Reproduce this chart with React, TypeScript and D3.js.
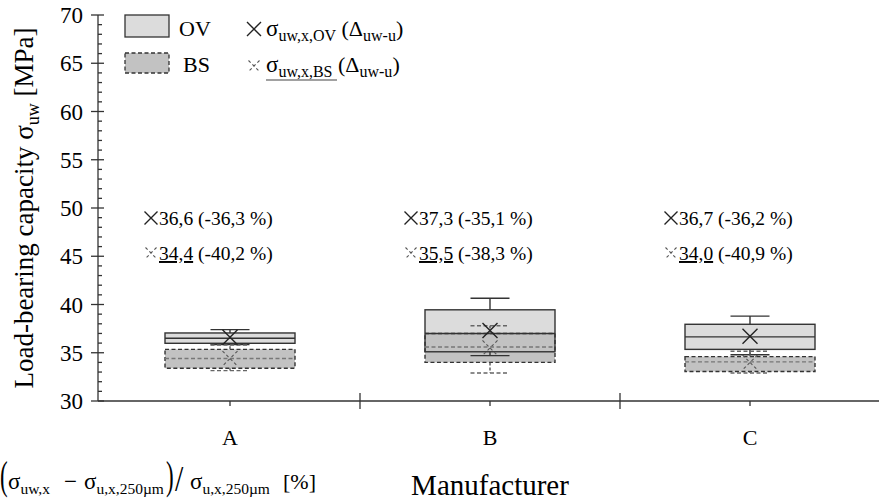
import React from "react";
import * as d3 from "d3";

const WIDTH = 879;
const HEIGHT = 502;

const categories = ["A", "B", "C"];

// box stats [MPa]
const ovWhiskerLow = [35.85, 34.7, 34.8];
const ovQ1 = [35.98, 35.1, 35.35];
const ovMedian = [36.5, 37.0, 36.65];
const ovQ3 = [37.05, 39.45, 37.95];
const ovWhiskerHigh = [37.4, 40.65, 38.8];
const ovMean = [36.6, 37.3, 36.7];
const ovDelta = [-36.3, -35.1, -36.2];

const bsWhiskerLow = [33.15, 32.9, 32.9];
const bsQ1 = [33.4, 34.0, 33.05];
const bsMedian = [34.4, 35.6, 34.05];
const bsQ3 = [35.35, 37.0, 34.6];
const bsWhiskerHigh = [35.8, 37.8, 35.15];
const bsMean = [34.4, 35.5, 34.0];
const bsDelta = [-40.2, -38.3, -40.9];

const FONT = '"Liberation Serif", "DejaVu Serif", serif';
const AXIS = "#333";
const OV_FILL = "#dcdcdc";
const BS_FILL = "#c2c2c2";
const TXT = { fontFamily: FONT };
const INK = "#000";

const fmt = (v: number) => d3.format(".1f")(v).replace(".", ",").replace("−", "-");

const Cross = ({ cx, cy, r, dashed }: { cx: number; cy: number; r: number; dashed?: boolean }) => (
  <path
    d={`M${cx - r},${cy - r}L${cx + r},${cy + r}M${cx + r},${cy - r}L${cx - r},${cy + r}`}
    stroke={dashed ? "#555" : "#222"}
    strokeWidth={dashed ? 1.1 : 1.4}
    strokeDasharray={dashed ? "3 2.5" : undefined}
    fill="none"
  />
);

// sigma with a subscript, as one text
const Sigma = ({ x, y, sub }: { x: number; y: number; sub: string }) => (
  <text x={x} y={y} fontSize={23} fill={INK} style={TXT}>
    σ<tspan fontSize={15.5} dy={5}>{sub}</tspan>
  </text>
);

export default function App() {
  const x = d3.scaleBand<string>().domain(categories).range([100, 880]).padding(0);
  const y = d3.scaleLinear().domain([30, 70]).range([401, 15]);
  const axisX = 98;
  const hw = 65;
  const cw = 19.5;

  const majorTicks = y.ticks(8);
  const minorTicks = d3.range(30, 71, 1).filter((v) => v % 5 !== 0);
  const boundaries = categories.slice(1).map((c) => x(c)!);

  const cxOf = (i: number) => x(categories[i])! + x.bandwidth() / 2;

  return (
    <svg
      width={WIDTH}
      height={HEIGHT}
      style={{ position: "absolute", left: 0, top: 0, background: "#fff", fontFamily: FONT }}
    >
      {/* fills */}
      {categories.map((c, i) => (
        <g key={`fill-${c}`}>
          <rect x={cxOf(i) - hw} y={y(ovQ3[i])} width={hw * 2} height={y(ovQ1[i]) - y(ovQ3[i])} fill={OV_FILL} />
          <rect x={cxOf(i) - hw} y={y(bsQ3[i])} width={hw * 2} height={y(bsQ1[i]) - y(bsQ3[i])} fill={BS_FILL} />
        </g>
      ))}

      {/* OV strokes */}
      {categories.map((c, i) => {
        const cx = cxOf(i);
        return (
          <g key={`ov-${c}`} stroke={AXIS} strokeWidth={1.4} fill="none">
            <rect x={cx - hw} y={y(ovQ3[i])} width={hw * 2} height={y(ovQ1[i]) - y(ovQ3[i])} />
            <line x1={cx - hw} x2={cx + hw} y1={y(ovMedian[i])} y2={y(ovMedian[i])} />
            <line x1={cx} x2={cx} y1={y(ovQ3[i])} y2={y(ovWhiskerHigh[i])} />
            <line x1={cx - cw} x2={cx + cw} y1={y(ovWhiskerHigh[i])} y2={y(ovWhiskerHigh[i])} />
            <line x1={cx} x2={cx} y1={y(ovQ1[i])} y2={y(ovWhiskerLow[i])} />
            <line x1={cx - cw} x2={cx + cw} y1={y(ovWhiskerLow[i])} y2={y(ovWhiskerLow[i])} />
          </g>
        );
      })}

      {/* BS strokes */}
      {categories.map((c, i) => {
        const cx = cxOf(i);
        return (
          <g key={`bs-${c}`} fill="none" strokeWidth={1.4}>
            <rect
              x={cx - hw}
              y={y(bsQ3[i])}
              width={hw * 2}
              height={y(bsQ1[i]) - y(bsQ3[i])}
              stroke={AXIS}
              strokeDasharray="4 2.5"
            />
            <line x1={cx - hw} x2={cx + hw} y1={y(bsMedian[i])} y2={y(bsMedian[i])} stroke="#777" strokeDasharray="4 2.5" />
            <line x1={cx} x2={cx} y1={y(bsQ3[i])} y2={y(bsWhiskerHigh[i])} stroke="#555" strokeDasharray="3 2" />
            <line x1={cx - cw} x2={cx + cw} y1={y(bsWhiskerHigh[i])} y2={y(bsWhiskerHigh[i])} stroke="#666" strokeDasharray="4 2.5" />
            <line x1={cx} x2={cx} y1={y(bsQ1[i])} y2={y(bsWhiskerLow[i])} stroke="#555" strokeDasharray="3 2" />
            <line x1={cx - cw} x2={cx + cw} y1={y(bsWhiskerLow[i])} y2={y(bsWhiskerLow[i])} stroke="#666" strokeDasharray="4 2.5" />
          </g>
        );
      })}

      {/* means */}
      {categories.map((c, i) => (
        <g key={`mean-${c}`}>
          <Cross cx={cxOf(i)} cy={y(bsMean[i])} r={7.5} dashed />
          <Cross cx={cxOf(i)} cy={y(ovMean[i])} r={7.5} />
        </g>
      ))}

      {/* annotations */}
      {categories.map((c, i) => {
        const cx = cxOf(i);
        return (
          <g key={`ann-${c}`} fontSize={19.5} fill={INK}>
            <Cross cx={cx - 79} cy={218} r={6.5} />
            <text x={cx - 71} y={225} style={TXT}>
              {`${fmt(ovMean[i])} (${fmt(ovDelta[i])} %)`}
            </text>
            <Cross cx={cx - 79} cy={253} r={5.5} dashed />
            <text x={cx - 71} y={260} style={TXT}>
              <tspan textDecoration="underline">{fmt(bsMean[i])}</tspan>
              <tspan>{` (${fmt(bsDelta[i])} %)`}</tspan>
            </text>
          </g>
        );
      })}

      {/* y axis */}
      <g stroke={AXIS} strokeWidth={1.3}>
        <line x1={axisX} x2={axisX} y1={y(70)} y2={y(30)} />
        {majorTicks.map((t) => (
          <line key={`M${t}`} x1={axisX - 7} x2={axisX + 6} y1={y(t)} y2={y(t)} />
        ))}
        {minorTicks.map((t) => (
          <line key={`m${t}`} x1={axisX} x2={axisX + 4} y1={y(t)} y2={y(t)} />
        ))}
      </g>
      <g fontSize={23} textAnchor="end" fill={INK}>
        {majorTicks.map((t) => (
          <text key={`l${t}`} x={83} y={y(t) + 8} style={TXT}>
            {t}
          </text>
        ))}
      </g>
      <text transform={`translate(33,208) rotate(-90)`} textAnchor="middle" fontSize={27} fill={INK} style={TXT}>
        Load-bearing capacity σ<tspan fontSize={18} dy={6}>uw</tspan>
        <tspan dy={-6}> [MPa]</tspan>
      </text>

      {/* x axis */}
      <g stroke={AXIS} strokeWidth={1.3}>
        <line x1={axisX} x2={WIDTH} y1={y(30)} y2={y(30)} />
        {boundaries.map((b) => (
          <line key={`b${b}`} x1={b} x2={b} y1={y(30) - 8} y2={y(30) + 8} />
        ))}
        {categories.map((c, i) => (
          <line key={`t${c}`} x1={cxOf(i)} x2={cxOf(i)} y1={y(30)} y2={y(30) + 5} />
        ))}
      </g>
      <g fontSize={22} textAnchor="middle" fill={INK}>
        {categories.map((c, i) => (
          <text key={`x${c}`} x={cxOf(i)} y={445} style={TXT}>
            {c}
          </text>
        ))}
      </g>
      <text x={490} y={495} textAnchor="middle" fontSize={29} fill={INK} style={TXT}>
        Manufacturer
      </text>

      {/* formula: (σuw,x − σu,x,250µm) / σu,x,250µm [%] */}
      <text transform="translate(0,489) scale(1,1.7)" fontSize={23} fill={INK} style={TXT}>(</text>
      <Sigma x={8} y={489} sub="uw,x" />
      <text x={64} y={489} fontSize={23} fill={INK} style={TXT}>−</text>
      <Sigma x={84} y={489} sub="u,x,250µm" />
      <text transform="translate(166,489) scale(1,1.7)" fontSize={23} fill={INK} style={TXT}>)</text>
      <text transform="translate(175,491) scale(1.3,1.6)" fontSize={23} fill={INK} style={TXT}>/</text>
      <Sigma x={190} y={489} sub="u,x,250µm" />
      <text x={283} y={489} fontSize={22} fill={INK} style={TXT}>[%]</text>

      {/* legend */}
      <rect x={125} y={15} width={44} height={22} fill={OV_FILL} stroke={AXIS} strokeWidth={1.3} />
      <rect x={125} y={53} width={44} height={20} fill={BS_FILL} stroke={AXIS} strokeWidth={1.3} strokeDasharray="4 2.5" />
      <text x={179} y={36} fontSize={22} fill={INK} style={TXT}>OV</text>
      <text x={183} y={72} fontSize={22} fill={INK} style={TXT}>BS</text>
      <Cross cx={254} cy={29} r={7} />
      <Cross cx={254} cy={66} r={5.5} dashed />
      <text x={266} y={36} fontSize={23} fill={INK} style={TXT}>
        σ<tspan fontSize={16} dy={5}>uw,x,OV</tspan>
        <tspan dy={-5} fontSize={22}> (Δ</tspan>
        <tspan fontSize={16} dy={5}>uw-u</tspan>
        <tspan dy={-5} fontSize={22}>)</tspan>
      </text>
      <text x={266} y={72} fontSize={23} fill={INK} style={TXT}>
        σ<tspan fontSize={16} dy={5}>uw,x,BS</tspan>
        <tspan dy={-5} fontSize={22}> (Δ</tspan>
        <tspan fontSize={16} dy={5}>uw-u</tspan>
        <tspan dy={-5} fontSize={22}>)</tspan>
      </text>
      <line x1={266} x2={337} y1={80} y2={80} stroke="#444" strokeWidth={1.2} />
    </svg>
  );
}
